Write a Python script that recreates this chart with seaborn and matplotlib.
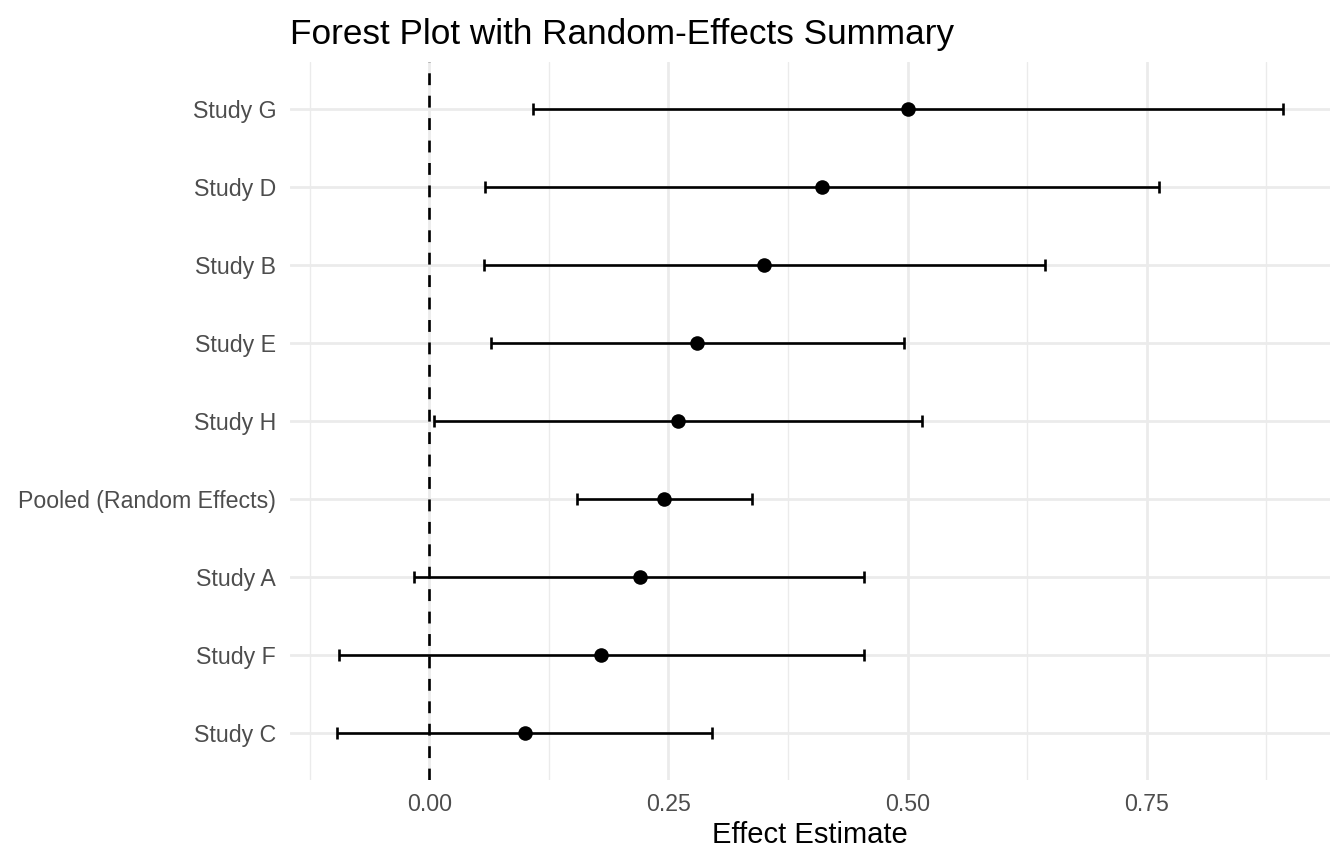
import pandas as pd
import matplotlib.pyplot as plt
import seaborn as sns

# Studies listed bottom to top, as drawn
studies = ["Study C", "Study F", "Study A", "Pooled (Random Effects)",
           "Study H", "Study E", "Study B", "Study D", "Study G"]
estimates = [0.10, 0.18, 0.22, 0.245, 0.26, 0.28, 0.35, 0.41, 0.50]
ci_lower = [-0.096, -0.094, -0.016, 0.155, 0.005, 0.065, 0.057, 0.058, 0.108]
ci_upper = [0.296, 0.454, 0.454, 0.337, 0.515, 0.496, 0.644, 0.763, 0.892]
x_ticks = [0.00, 0.25, 0.50, 0.75]
x_minor = [-0.125, 0.125, 0.375, 0.625, 0.875]


def plot_forest():
    df = pd.DataFrame({
        "study": studies, "est": estimates,
        "lo": ci_lower, "hi": ci_upper,
    })
    df["pos"] = range(len(df))

    sns.set_theme(style="white")
    plt.rcParams["font.family"] = ["Liberation Sans", "DejaVu Sans"]

    fig = plt.figure(figsize=(13.44, 8.64), dpi=100)
    ax = fig.add_axes([0.2158, 0.0972, 0.7738, 0.8310])

    # grid lines (ggplot theme_minimal look)
    for v in x_minor:
        ax.axvline(v, color="#EBEBEB", lw=1.0, zorder=0)
    for v in x_ticks:
        ax.axvline(v, color="#EBEBEB", lw=2.0, zorder=0)
    for p in df["pos"]:
        ax.axhline(p, color="#EBEBEB", lw=2.0, zorder=0)

    ax.axvline(0, color="black", lw=1.9, ls=(0, (4.5, 4.0)), zorder=1)

    ax.errorbar(df["est"], df["pos"],
                xerr=[df["est"] - df["lo"], df["hi"] - df["est"]],
                fmt="none", ecolor="black", elinewidth=1.9,
                capsize=4, capthick=1.9, zorder=2)
    sns.scatterplot(data=df, x="est", y="pos", color="black", s=110,
                    edgecolor="black", linewidth=0, zorder=3, ax=ax)

    xmin, xmax = min(ci_lower), max(ci_upper)
    pad = (xmax - xmin) * 0.05
    ax.set_xlim(xmin - pad, xmax + pad)
    ax.set_ylim(-0.6, len(studies) - 1 + 0.6)

    ax.set_xticks(x_ticks)
    ax.set_xticklabels([f"{t:.2f}" for t in x_ticks])
    ax.set_yticks(df["pos"])
    ax.set_yticklabels(studies)
    ax.tick_params(axis="both", length=0, labelsize=16.7, labelcolor="#4D4D4D")
    ax.tick_params(axis="y", pad=10)
    ax.tick_params(axis="x", pad=9)

    for s in ax.spines.values():
        s.set_visible(False)

    ax.set_xlabel("Effect Estimate", fontsize=21, color="black", labelpad=4)
    ax.set_ylabel("")
    ax.set_title("Forest Plot with Random-Effects Summary", loc="left",
                 fontsize=25.3, color="black", pad=13)

    fig.savefig("out.png", dpi=100)


if __name__ == "__main__":
    plot_forest()
